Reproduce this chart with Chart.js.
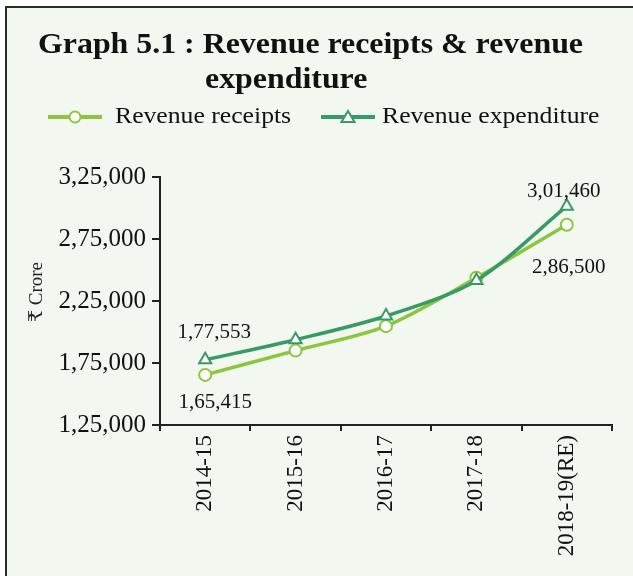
<!DOCTYPE html>
<html>
<head>
<meta charset="utf-8">
<script src="https://cdn.jsdelivr.net/npm/chart.js@4.4.1/dist/chart.umd.min.js"></script>
<style>
    html, body { margin: 0; padding: 0; background: #ffffff; overflow: hidden; }
    #frame {
        position: absolute; left: 5px; top: 6px; width: 700px; height: 650px;
        border: 2px solid #2b2b2b; background: #f2f7f0;
    }
    #wrap { position: absolute; left: 0; top: 0; width: 633px; height: 576px; }
</style>
</head>
<body>
<div id="frame"></div>
<div id="wrap"><canvas id="revenue-chart" width="633" height="576"></canvas></div>
<script>
// Datos del gráfico (₹ crore)
const years = ['2014-15', '2015-16', '2016-17', '2017-18', '2018-19(RE)'];
const revenueReceipts = [165415, 185000, 204700, 243700, 286500];
const revenueExpenditure = [177553, 193800, 212900, 241600, 301460];
const yTicks = [125000, 175000, 225000, 275000, 325000];

const receiptsColor = '#8cc63f';
const expenditureColor = '#389a66';
const serif = '"Liberation Serif", "Times New Roman", "DejaVu Serif", serif';

// Formato indio: 1,65,415
function formatIndian(n) {
    return Number(n).toLocaleString('en-IN');
}

// Texto ensanchado horizontalmente (el original usa una fuente algo más ancha)
function stretchedText(ctx, text, x, y, sx) {
    ctx.save();
    ctx.translate(x, y);
    ctx.scale(sx, 1);
    ctx.fillText(text, 0, 0);
    ctx.restore();
}

// Etiquetas de datos solo en el primer y último punto
const pointLabels = [
    {dataset: 0, index: 0, dx: 9, dy: -27},
    {dataset: 1, index: 0, dx: 10, dy: 28},
    {dataset: 0, index: 4, dx: -3, dy: -15},
    {dataset: 1, index: 4, dx: 2, dy: 43}
];

const annotatePlugin = {
    id: 'annotate',
    afterDraw(chart) {
        const ctx = chart.ctx;
        ctx.save();
        ctx.fillStyle = '#111';

        // Título
        ctx.font = 'bold 30px ' + serif;
        ctx.textAlign = 'left';
        ctx.textBaseline = 'alphabetic';
        const line1 = 'Graph 5.1 : Revenue receipts & revenue';
        const sx = 545 / ctx.measureText(line1).width;
        stretchedText(ctx, line1, 38, 53, sx);
        stretchedText(ctx, 'expenditure', 205, 88, sx);

        // Leyenda
        const legend = [
            {x: 48, w: 54, color: receiptsColor, style: 'circle', text: 'Revenue receipts', tx: 115},
            {x: 321, w: 54, color: expenditureColor, style: 'triangle', text: 'Revenue expenditure', tx: 382}
        ];
        legend.forEach(item => {
            const y = 117;
            ctx.strokeStyle = item.color;
            ctx.lineWidth = 4;
            ctx.beginPath();
            ctx.moveTo(item.x, y);
            ctx.lineTo(item.x + item.w, y);
            ctx.stroke();
            ctx.fillStyle = '#ffffff';
            ctx.lineWidth = 2;
            const cx = item.x + item.w / 2;
            ctx.beginPath();
            if (item.style === 'circle') {
                ctx.arc(cx, y, 5.5, 0, Math.PI * 2);
            } else {
                ctx.moveTo(cx, y - 6);
                ctx.lineTo(cx + 6.5, y + 5);
                ctx.lineTo(cx - 6.5, y + 5);
                ctx.closePath();
            }
            ctx.fill();
            ctx.stroke();
            ctx.fillStyle = '#111';
            ctx.font = '24px ' + serif;
            ctx.textBaseline = 'middle';
            stretchedText(ctx, item.text, item.tx, y, 1.07);
        });

        // Título del eje Y
        ctx.save();
        ctx.translate(37, 292);
        ctx.rotate(-Math.PI / 2);
        ctx.font = '19px ' + serif;
        ctx.fillStyle = '#222';
        ctx.textAlign = 'center';
        ctx.textBaseline = 'middle';
        ctx.fillText('₹ Crore', 0, 0);
        ctx.restore();

        // Etiquetas de valores
        ctx.font = '21px ' + serif;
        ctx.textAlign = 'center';
        ctx.textBaseline = 'middle';
        pointLabels.forEach(l => {
            const ds = chart.data.datasets[l.dataset];
            const el = chart.getDatasetMeta(l.dataset).data[l.index];
            ctx.fillText(formatIndian(ds.data[l.index]), el.x + l.dx, el.y + l.dy);
        });
        ctx.restore();
    }
};

const config = {
    type: 'line',
    data: {
        labels: years,
        datasets: [
            {
                label: 'Revenue expenditure',
                data: revenueExpenditure,
                borderColor: expenditureColor,
                backgroundColor: '#ffffff',
                borderWidth: 3.5,
                pointStyle: 'triangle',
                pointRadius: 7,
                pointBorderWidth: 2,
                tension: 0.3,
                order: 0
            },
            {
                label: 'Revenue receipts',
                data: revenueReceipts,
                borderColor: receiptsColor,
                backgroundColor: '#ffffff',
                borderWidth: 3.5,
                pointStyle: 'circle',
                pointRadius: 6,
                pointBorderWidth: 2,
                tension: 0.3,
                order: 1
            }
        ]
    },
    options: {
        responsive: false,
        animation: false,
        layout: {padding: {top: 177, right: 21, left: 0, bottom: 0}},
        plugins: {
            legend: {display: false},
            tooltip: {enabled: false},
            title: {display: false}
        },
        scales: {
            x: {
                offset: true,
                border: {color: '#222', width: 2},
                grid: {offset: true, drawOnChartArea: false, color: '#222', tickLength: 6, lineWidth: 2},
                ticks: {
                    color: '#111',
                    font: {family: serif, size: 23},
                    minRotation: 90,
                    maxRotation: 90,
                    padding: 4
                },
                afterFit(scale) { scale.height = 151; }
            },
            y: {
                min: 125000,
                max: 325000,
                afterBuildTicks(scale) { scale.ticks = yTicks.map(v => ({value: v})); },
                border: {color: '#222', width: 2},
                grid: {drawOnChartArea: false, color: '#222', tickLength: 8, lineWidth: 2},
                ticks: {
                    color: '#111',
                    font: {family: serif, size: 25},
                    padding: 6,
                    callback: v => formatIndian(v)
                },
                afterFit(scale) { scale.width = 160; }
            }
        }
    },
    plugins: [annotatePlugin]
};

const ctx = document.getElementById('revenue-chart').getContext('2d');
const revenueChart = new Chart(ctx, config);
</script>
</body>
</html>
